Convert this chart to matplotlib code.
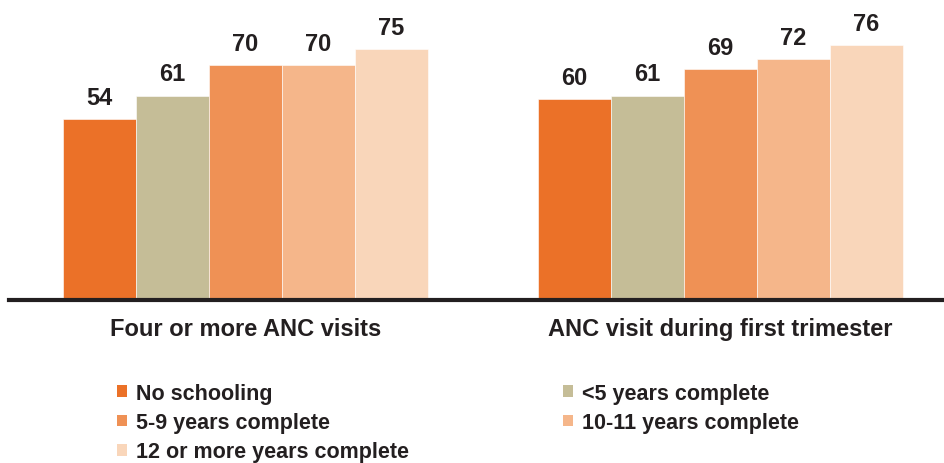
import numpy as np
import matplotlib.pyplot as plt
from matplotlib.patches import Patch

# data
groups = ["Four or more ANC visits", "ANC visit during first trimester"]
series = ["No schooling", "<5 years complete", "5-9 years complete",
          "10-11 years complete", "12 or more years complete"]
values = [
    [54, 60],
    [61, 61],
    [70, 69],
    [70, 72],
    [75, 76],
]
colors = ["#EB7128", "#C5BD97", "#EF9155", "#F5B68A", "#F9D6BA"]

plt.rcParams['font.family'] = ['Liberation Sans', 'DejaVu Sans']
dark = "#231F20"

fig = plt.figure(figsize=(9.45, 4.64), dpi=100)
ax = fig.add_axes([9 / 945, 163 / 464, 1 - 9 / 945, 301 / 464])

x = np.arange(len(groups))
w = 0.1538
for i, (name, vals) in enumerate(zip(series, values)):
    pos = x + (i - 2) * w
    ax.bar(pos, vals, width=w, color=colors[i], edgecolor="white",
           linewidth=0.4, label=name, zorder=2)
    for xp, v in zip(pos, vals):
        ax.text(xp, v + 3.0, str(v), ha="center", va="bottom",
                fontsize=17, fontweight="bold", color=dark)

ax.set_xlim(-0.498, 1.474)
ax.set_ylim(0, 89.8)
for s in ["top", "right", "left"]:
    ax.spines[s].set_visible(False)
ax.spines["bottom"].set_linewidth(3)
ax.spines["bottom"].set_color(dark)
ax.spines["bottom"].set_zorder(3)
ax.set_yticks([])
ax.set_xticks(x)
ax.set_xticklabels(groups, fontsize=17, fontweight="bold", color=dark)
ax.tick_params(axis="x", length=0, pad=12)

# legend in two columns, row-major order
handles = [Patch(facecolor=c, edgecolor="none") for c in colors]
leg_kw = dict(loc="upper left", frameon=False, handlelength=0.47,
              handleheight=0.47, handletextpad=0.42, labelspacing=0.38,
              borderaxespad=0, borderpad=0,
              prop={"weight": "bold", "size": 15.5})
col1 = [0, 2, 4]
col2 = [1, 3]
leg1 = fig.legend([handles[k] for k in col1], [series[k] for k in col1],
                  bbox_to_anchor=(117 / 945, 1 - 384 / 464), **leg_kw)
leg2 = fig.legend([handles[k] for k in col2], [series[k] for k in col2],
                  bbox_to_anchor=(563 / 945, 1 - 384 / 464), **leg_kw)
for leg in (leg1, leg2):
    for t in leg.get_texts():
        t.set_color(dark)

fig.savefig("out.png", dpi=100)
